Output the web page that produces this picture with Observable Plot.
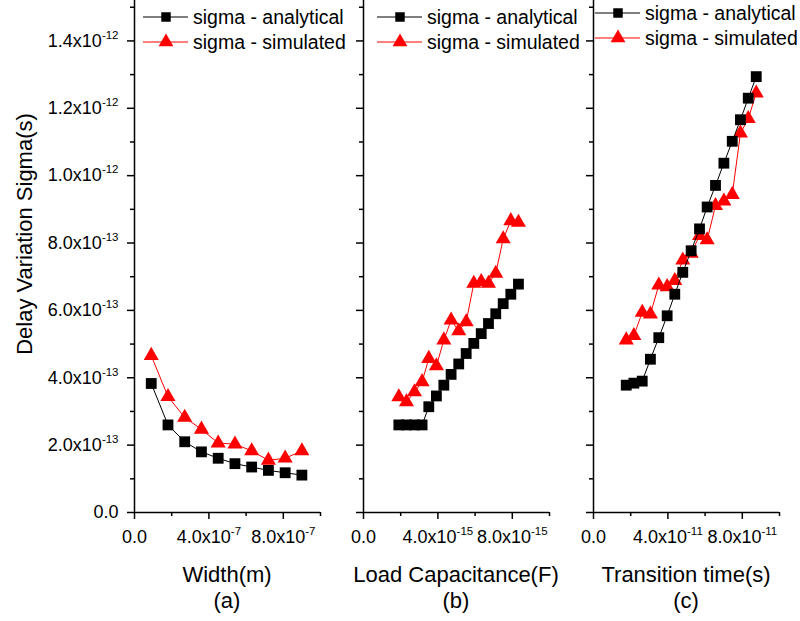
<!DOCTYPE html>
<html><head><meta charset="utf-8">
<script src="https://cdn.jsdelivr.net/npm/d3@7"></script>
<script src="https://cdn.jsdelivr.net/npm/@observablehq/plot@0.6"></script>
<style>
body{margin:0;background:#fff;}
#chart{position:relative;width:800px;height:621px;overflow:hidden;font-family:"Liberation Sans",Arial,sans-serif;}
#chart svg{position:absolute;left:0;top:0;}
</style></head><body><div id="chart"></div>
<script>
// ---- data ----
const widthX = [0.9e-7,1.8e-7,2.7e-7,3.6e-7,4.5e-7,5.4e-7,6.3e-7,7.2e-7,8.1e-7,9.0e-7];
const widthAnalytical = [3.83e-13,2.60e-13,2.10e-13,1.80e-13,1.61e-13,1.45e-13,1.35e-13,1.25e-13,1.18e-13,1.11e-13];
const widthSimulated  = [4.66e-13,3.44e-13,2.82e-13,2.47e-13,2.06e-13,2.03e-13,1.83e-13,1.55e-13,1.61e-13,1.83e-13];

const loadX = [1.90e-15,2.31e-15,2.74e-15,3.15e-15,3.51e-15,3.92e-15,4.32e-15,4.71e-15,5.12e-15,5.52e-15,5.93e-15,6.33e-15,6.72e-15,7.11e-15,7.51e-15,7.92e-15,8.33e-15];
const loadAnalytical = [2.60e-13,2.60e-13,2.60e-13,2.60e-13,3.14e-13,3.46e-13,3.78e-13,4.10e-13,4.41e-13,4.72e-13,5.02e-13,5.31e-13,5.61e-13,5.90e-13,6.20e-13,6.48e-13,6.78e-13];
const loadSimulated  = [3.43e-13,3.28e-13,3.58e-13,3.88e-13,4.57e-13,4.35e-13,5.12e-13,5.71e-13,5.39e-13,5.66e-13,6.80e-13,6.85e-13,6.80e-13,7.10e-13,8.12e-13,8.66e-13,8.61e-13];

const transX = [1.76e-11,2.17e-11,2.62e-11,3.06e-11,3.51e-11,3.96e-11,4.37e-11,4.80e-11,5.25e-11,5.70e-11,6.11e-11,6.56e-11,7.01e-11,7.46e-11,7.90e-11,8.32e-11,8.75e-11];
const transAnalytical = [3.78e-13,3.84e-13,3.90e-13,4.55e-13,5.19e-13,5.84e-13,6.48e-13,7.13e-13,7.77e-13,8.42e-13,9.07e-13,9.71e-13,10.37e-13,11.02e-13,11.66e-13,12.30e-13,12.94e-13];
const transSimulated  = [5.12e-13,5.25e-13,5.94e-13,5.89e-13,6.75e-13,6.70e-13,6.88e-13,7.49e-13,7.69e-13,8.22e-13,8.09e-13,9.11e-13,9.24e-13,9.44e-13,11.26e-13,11.69e-13,12.45e-13];

const yMajorTicks = [0,2e-13,4e-13,6e-13,8e-13,1.0e-12,1.2e-12,1.4e-12];
const yMinorTicks = [1e-13,3e-13,5e-13,7e-13,9e-13,1.1e-12,1.3e-12,1.5e-12];
const xMajorTicks = [[0,4e-7,8e-7],[0,4e-15,8e-15],[0,4e-11,8e-11]];
const xMinorTicks = [[2e-7,6e-7,1e-6],[2e-15,6e-15,1e-14],[2e-11,6e-11,1e-10]];
const xDomains = [[0,1e-6],[0,1e-14],[0,1e-10]];

const seriesNames = ["sigma - analytical","sigma - simulated"];
const xTitles = ["Width(m)","Load Capacitance(F)","Transition time(s)"];
const panelTags = ["(a)","(b)","(c)"];
const yTitle = "Delay Variation Sigma(s)";

// ---- layout ----
const W = 800, H = 621, PW = 186, Y0 = 512;
const panelLeft = [134, 363, 593];
const FONT = "'Liberation Sans', Arial, sans-serif";
const RED = "#ff0000";

function sci(v){
  if (v === 0) return "0.0";
  const e = Math.floor(Math.log10(Math.abs(v)) + 1e-9);
  const m = v / Math.pow(10, e);
  return m.toFixed(1) + "x10^" + e;
}
const blank = () => "";

function superscripts(svg){
  svg.querySelectorAll("text").forEach(t => {
    const els = t.querySelectorAll("tspan").length ? [...t.querySelectorAll("tspan")] : [t];
    els.forEach(el => {
      const m = el.textContent.match(/^(.*x10)\^(-?\d+)$/);
      if (!m) return;
      el.textContent = m[1];
      const sup = document.createElementNS("http://www.w3.org/2000/svg","tspan");
      sup.setAttribute("dy","-8");
      sup.setAttribute("font-size","11.5");
      sup.textContent = m[2];
      el.appendChild(sup);
    });
  });
}

function panel(i, xs, ana, sim){
  const L = panelLeft[i];
  const A = xs.map((x,k) => ({x, y: ana[k]}));
  const S = xs.map((x,k) => ({x, y: sim[k]}));
  return Plot.plot({
    width: W, height: H,
    marginLeft: L, marginRight: W - L - PW, marginTop: 0, marginBottom: H - Y0,
    x: {domain: xDomains[i], label: null},
    y: {domain: [0, 1.52e-12], label: null},
    style: {background: "transparent", overflow: "visible", fontFamily: FONT, fontSize: "18px", color: "black"},
    marks: [
      Plot.axisY(yMinorTicks, {tickSize: 4, tickFormat: blank, strokeWidth: 1.5, label: null}),
      Plot.axisY(yMajorTicks, {tickSize: 7, tickPadding: 9, tickFormat: i === 0 ? sci : blank, strokeWidth: 1.5, label: null}),
      Plot.axisX(xMinorTicks[i], {tickSize: 4, tickFormat: blank, strokeWidth: 1.5, label: null}),
      Plot.axisX(xMajorTicks[i], {tickSize: 7, tickPadding: 11, tickFormat: sci, strokeWidth: 1.5, label: null}),
      Plot.ruleX([xDomains[i][0]], {stroke: "black", strokeWidth: 1.5}),
      Plot.ruleY([0], {stroke: "black", strokeWidth: 1.5}),
      Plot.line(S, {x: "x", y: "y", stroke: RED, strokeWidth: 1}),
      Plot.dot(S, {x: "x", y: "y", symbol: "triangle", r: 5.6, fill: RED}),
      Plot.line(A, {x: "x", y: "y", stroke: "black", strokeWidth: 1}),
      Plot.dot(A, {x: "x", y: "y", symbol: "square", r: 6.1, fill: "black"})
    ]
  });
}

const chart = document.getElementById("chart");
[[widthX, widthAnalytical, widthSimulated],[loadX, loadAnalytical, loadSimulated],[transX, transAnalytical, transSimulated]]
  .forEach(([xs, a, s], i) => {
    const svg = panel(i, xs, a, s);
    superscripts(svg);
    chart.appendChild(svg);
  });

// ---- overlay: titles and legends ----
const ov = d3.create("svg").attr("width", W).attr("height", H)
  .style("font-family", FONT).style("overflow", "visible");
ov.append("text").attr("transform", "translate(32,234) rotate(-90)")
  .attr("text-anchor", "middle").attr("font-size", 22).attr("fill", "black").text(yTitle);
xTitles.forEach((t, i) => {
  const cx = panelLeft[i] + PW / 2;
  ov.append("text").attr("x", cx).attr("y", 582).attr("text-anchor", "middle")
    .attr("font-size", 22).attr("fill", "black").text(t);
  ov.append("text").attr("x", cx).attr("y", 608).attr("text-anchor", "middle")
    .attr("font-size", 22).attr("fill", "black").text(panelTags[i]);
});
const legendPos = [{x: 143, y: 17}, {x: 377, y: 17}, {x: 595, y: 13}];
const legendStyle = [
  {color: "black", sym: d3.symbolSquare, size: 90},
  {color: RED, sym: d3.symbolTriangle, size: 95}
];
legendPos.forEach(p => {
  seriesNames.forEach((name, k) => {
    const y = p.y + k * 25, st = legendStyle[k];
    ov.append("line").attr("x1", p.x).attr("x2", p.x + 45).attr("y1", y).attr("y2", y)
      .attr("stroke", st.color).attr("stroke-width", 1.2);
    ov.append("path").attr("transform", `translate(${p.x + 23},${y})`)
      .attr("d", d3.symbol(st.sym, st.size)()).attr("fill", st.color);
    ov.append("text").attr("x", p.x + 50).attr("y", y + 6.5).attr("font-size", 19.5)
      .attr("fill", "black").text(name);
  });
});
chart.appendChild(ov.node());
</script></body></html>
